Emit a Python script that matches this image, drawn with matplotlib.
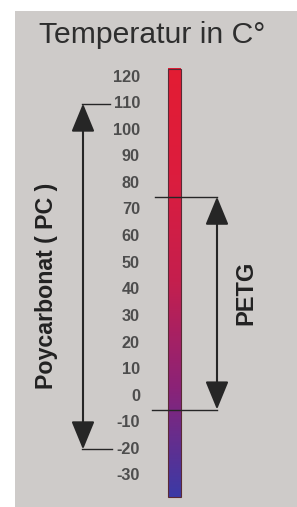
import matplotlib
matplotlib.use("Agg")
import matplotlib.pyplot as plt
import numpy as np
from matplotlib.colors import LinearSegmentedColormap
from matplotlib.patches import Rectangle

# ---- data ----
title = "Temperatur in C°"
tick_values = [120, 110, 100, 90, 80, 70, 60, 50, 40, 30, 20, 10, 0, -10, -20, -30]
bar_range = (-38, 123)
pc_range = (-20, 110)
petg_range = (-5, 75)
pc_label = "Poycarbonat ( PC )"
petg_label = "PETG"
bar_color_stops = ["#3b3aa6", "#8a2378", "#c41f4e", "#dc1d3e", "#e31c33"]  # bottom -> top

plt.rcParams['font.family'] = ['Liberation Sans', 'DejaVu Sans']

W, H = 297, 507
fig = plt.figure(figsize=(W / 100, H / 100), dpi=100)
fig.patch.set_facecolor("white")

ax = fig.add_axes([0, 0, 1, 1])
ax.set_facecolor("none")
ppd = 2.66  # pixels per degree
ax.axis("off")

# gray panel
ax.add_patch(Rectangle((15 / W, 0), 1 - 15 / W, 1 - 11 / H, transform=ax.transAxes,
                       facecolor="#cecbc9", edgecolor="none", zorder=0))

# gradient bar
cmap = LinearSegmentedColormap.from_list("temp", bar_color_stops)
grad = np.linspace(0, 1, 256).reshape(-1, 1)
ax.imshow(grad, extent=[167.5, 180.5, bar_range[0], bar_range[1]], origin="lower",
          cmap=cmap, aspect="auto", zorder=2)
ax.add_patch(Rectangle((167.5, bar_range[0]), 13, bar_range[1] - bar_range[0],
                       facecolor="none", edgecolor="#5a2a35", lw=0.8, zorder=3))
ax.set_xlim(0, W)
ax.set_ylim(120 - (H - 77) / ppd, 120 + 77 / ppd)

# tick labels
for t in tick_values:
    ax.text(140, t, str(t), ha="right", va="center", fontsize=11.7, color="#4d4d4d",
            fontweight="bold", zorder=4)

# title
ax.text(152, 120 + (77 - 35) / ppd, title, ha="center", va="center", fontsize=21.7,
        color="#2e2e2e", zorder=4)

lc = "#262626"
arrow_style = "<|-|>,head_length=1.75,head_width=0.72"

# PC arrow
ax.annotate("", xy=(83, pc_range[1]), xytext=(83, pc_range[0]),
            arrowprops=dict(arrowstyle=arrow_style, mutation_scale=10, lw=1.5,
                            color=lc, shrinkA=0, shrinkB=0), zorder=4)
ax.plot([82, 110], [pc_range[1], pc_range[1]], color=lc, lw=1.0, zorder=4)
ax.plot([82, 112], [pc_range[0], pc_range[0]], color=lc, lw=1.0, zorder=4)
ax.text(47, 41.4, pc_label, rotation=90, ha="center", va="center", fontsize=16.7,
        fontweight="bold", color="#222222", zorder=4)

# PETG arrow
ax.annotate("", xy=(217, petg_range[1]), xytext=(217, petg_range[0]),
            arrowprops=dict(arrowstyle=arrow_style, mutation_scale=10, lw=1.5,
                            color=lc, shrinkA=0, shrinkB=0), zorder=4)
ax.plot([155, 217], [petg_range[1], petg_range[1]], color=lc, lw=1.0, zorder=4)
ax.plot([152, 217], [petg_range[0], petg_range[0]], color=lc, lw=1.0, zorder=4)
ax.text(246, 38.8, petg_label, rotation=90, ha="center", va="center", fontsize=17,
        fontweight="bold", color="#222222", zorder=4)

fig.savefig("out.png", dpi=100)
